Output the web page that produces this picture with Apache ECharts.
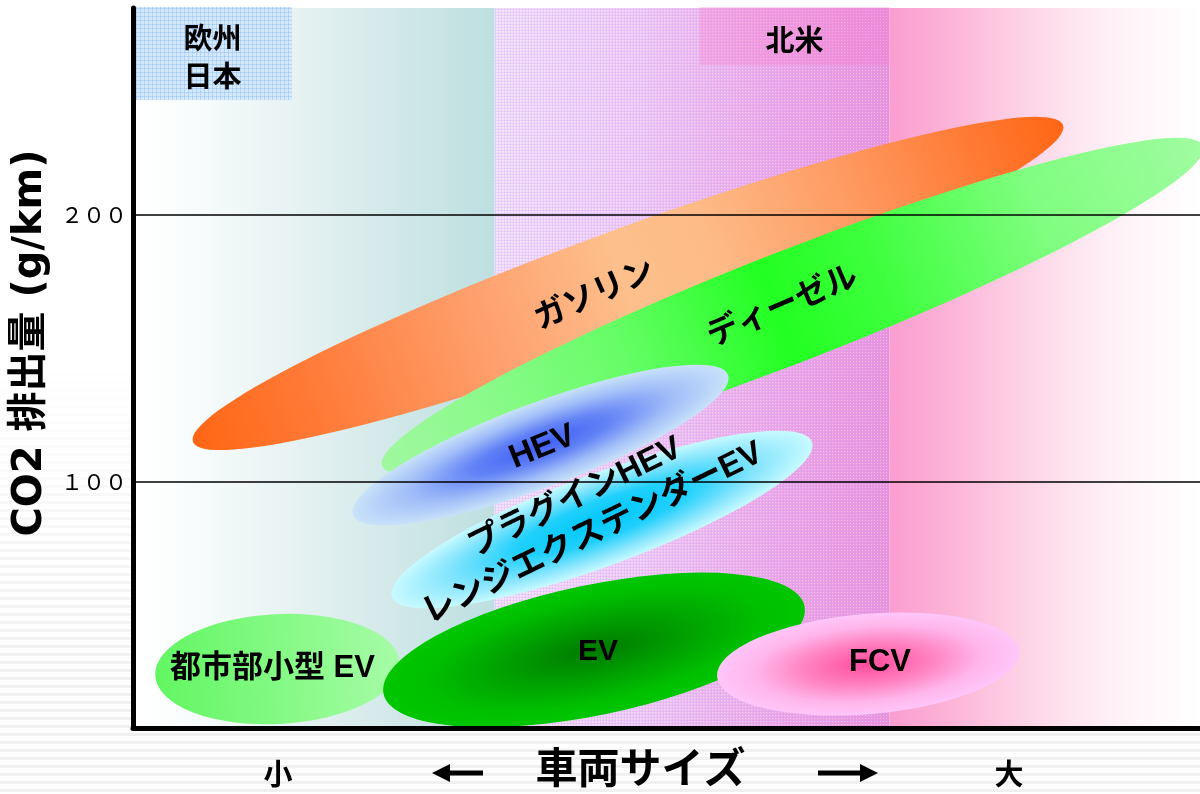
<!DOCTYPE html>
<html>
<head>
<meta charset="utf-8">
<title>車両サイズとCO2排出量</title>
<script src="https://cdn.jsdelivr.net/npm/echarts@6.0.0/dist/echarts.min.js"></script>
<style>
  html, body { margin: 0; padding: 0; }
  body {
    width: 1200px; height: 794px; overflow: hidden;
    background:
      linear-gradient(to bottom, #ffffff 0%, #ffffff 45%, rgba(255,255,255,0) 85%),
      repeating-linear-gradient(to bottom, #ffffff 0px, #ffffff 5px, #f0f0f0 5px, #f0f0f0 8px);
  }
  #chart { width: 1200px; height: 794px; }
</style>
</head>
<body>
<div id="chart"></div>
<script>
// ---- axis ranges and ticks ----
const CO2_MIN = 8.2;
const CO2_MAX = 277;
const co2Ticks = [100, 200];
const sizeTicks = [13.6, 82.1];
const sizeTickLabels = ['小', '大'];

// ---- market regions along the vehicle-size axis ----
const bandFrom = [0, 33.9, 70.9];
const bandTo   = [33.9, 70.9, 100];
const regionNames  = ['欧州\n日本', '北米'];
const regionFrom   = [0, 53.1];
const regionTo     = [14.9, 70.9];
const regionCo2Low = [242.7, 255.7];

// ---- vehicle classes: major axis from (sizeFrom, co2From) to (sizeTo, co2To),
//      half-thickness co2Spread in g/km ----
const vehicleClasses = ['都市部小型 EV', 'ガソリン', 'ディーゼル', 'HEV', 'プラグインHEV\nレンジエクステンダーEV', 'EV', 'FCV'];
const sizeFrom  = [2.08, 5.62, 23.34, 20.62, 24.27, 23.48, 54.74];
const sizeTo    = [25.0, 87.16, 100.3, 55.76, 63.64, 62.93, 83.03];
const co2From   = [27.8, 115.0, 106.0, 87.7, 57.1, 21.0, 27.3];
const co2To     = [32.6, 233.3, 225.5, 140.0, 115.0, 53.7, 36.9];
const co2Spread = [20.5, 20.5, 20.7, 15.7, 17.2, 24.3, 18.7];

// ---- styling ----
const G = echarts.graphic;
const lin = (stops) => new G.LinearGradient(0, 0, 1, 0, stops.map((c) => ({ offset: c[0], color: c[1] })));
const rad = (stops) => new G.RadialGradient(0.5, 0.5, 0.5, stops.map((c) => ({ offset: c[0], color: c[1] })));

// small repeating mesh tiles used as texture overlays
function meshTile(size, lineColor, dotColor) {
  const c = document.createElement('canvas');
  c.width = size; c.height = size;
  const g = c.getContext('2d');
  g.fillStyle = lineColor;
  g.fillRect(0, 0, size, 1);
  g.fillRect(0, 0, 1, size);
  if (dotColor) { g.fillStyle = dotColor; g.fillRect(Math.floor(size / 2), Math.floor(size / 2), 1, 1); }
  return { image: c, repeat: 'repeat' };
}

const classFills = [
  lin([[0, '#62f662'], [1, '#a6fca6']]),
  lin([[0, '#ff6614'], [0.15, '#ff7c3a'], [0.35, '#fea270'], [0.5, '#fdc08c'], [0.6, '#fdba86'], [0.75, '#fe9c64'], [0.9, '#ff7a34'], [1, '#ff6614']]),
  lin([[0, '#a0f8a0'], [0.15, '#88fa88'], [0.3, '#66fd66'], [0.48, '#22ff22'], [0.6, '#3cff3c'], [0.8, '#80fe80'], [1, '#a0fca0']]),
  rad([[0, '#3f5ff6'], [0.35, '#6181f6'], [0.7, '#a2bef8'], [1, '#c8e2f9']]),
  rad([[0, '#00c8fa'], [0.4, '#20d0fc'], [0.75, '#8ae6fd'], [1, '#c8faff']]),
  rad([[0, '#007a00'], [0.45, '#00a200'], [0.8, '#00c000'], [1, '#00c600']]),
  rad([[0, '#ff4c9c'], [0.4, '#ff7fbf'], [0.75, '#ffb6ea'], [1, '#ffc6fa']])
];
// label placement relative to each ellipse centre: [dx px, dy px, rotation deg, font px]
const classLabelStyle = [
  [-5, -1, 0, 31],
  [-33, 12, 24, 32],
  [-10, 1, 23, 32],
  [2, 2, 22, 33],
  [-18, -4, 26, 33],
  [4, 2, 0, 30],
  [12, -2, 0, 31]
];
const LABEL_FONT = "'Liberation Sans', 'Noto Sans CJK JP', sans-serif";

const bandFills = [
  lin([[0, '#ffffff'], [0.1, '#fcfefe'], [0.5, '#e3f0f0'], [1, '#bddfe0']]),
  lin([[0, '#f2e2fa'], [0.35, '#f0cef4'], [0.7, '#eeaae5'], [1, '#ec92d9']]),
  lin([[0, '#fa9dd0'], [0.2, '#fcb4d8'], [0.4, '#fdcfe4'], [0.6, '#fee6f0'], [0.8, '#fff6fa'], [1, '#ffffff']])
];
const bandTextures = [null, meshTile(3, 'rgba(200,150,255,0.22)', 'rgba(255,255,255,0.35)'), null];
const regionFills = ['#d6e9fc', 'rgba(255,120,200,0.28)'];
const regionTextures = [meshTile(4, 'rgba(150,195,248,0.55)', null), null];

const chart = echarts.init(document.getElementById('chart'), null, { renderer: 'canvas' });

const toFullWidth = (s) => String(s).replace(/[0-9]/g, (d) => String.fromCharCode(d.charCodeAt(0) + 0xFEE0));

chart.setOption({
  animation: false,
  grid: { left: 133, right: 0, top: 8, bottom: 66, containLabel: false, outerBoundsMode: 'none' },
  xAxis: {
    type: 'value', min: 0, max: 100, z: 10,
    axisLine: { show: true, onZero: false, lineStyle: { color: '#000', width: 5 } },
    axisTick: { show: false },
    splitLine: { show: false },
    axisLabel: {
      customValues: sizeTicks,
      formatter: (v) => sizeTickLabels[sizeTicks.indexOf(v)] || '',
      color: '#000', fontSize: 29, fontWeight: 'bold', fontFamily: 'Noto Sans CJK JP', margin: 31
    },
    name: '車両サイズ', nameLocation: 'middle', nameGap: 18, nameMoveOverlap: false,
    nameTextStyle: { color: '#000', fontSize: 42, fontWeight: 'bold', fontFamily: 'Noto Sans CJK JP', padding: [0, 52, 0, 0] }
  },
  yAxis: {
    type: 'value', min: CO2_MIN, max: CO2_MAX, z: 10,
    axisLine: { show: true, onZero: false, lineStyle: { color: '#000', width: 5 } },
    axisTick: { show: false, customValues: co2Ticks },
    splitLine: { show: true, lineStyle: { color: '#000', width: 1.5 } },
    axisLabel: {
      customValues: co2Ticks,
      formatter: (v) => toFullWidth(v),
      color: '#000', fontSize: 22, fontFamily: 'Noto Sans CJK JP', margin: 6
    },
    name: 'CO2 排出量 (g/km)', nameLocation: 'middle', nameRotate: 90, nameGap: 82, nameMoveOverlap: false,
    nameTextStyle: { color: '#000', fontSize: 40, fontWeight: 'bold', fontFamily: "'DejaVu Sans', 'Noto Sans CJK JP', sans-serif", padding: [0, 0, 0, 50] }
  },
  graphic: [
    // ← arrow
    { type: 'polygon', shape: { points: [[432, 773], [450, 764], [450, 782]] }, style: { fill: '#000' } },
    { type: 'rect', shape: { x: 448, y: 770.5, width: 35, height: 5 }, style: { fill: '#000' } },
    // → arrow
    { type: 'rect', shape: { x: 818, y: 770.5, width: 44, height: 5 }, style: { fill: '#000' } },
    { type: 'polygon', shape: { points: [[878, 773], [860, 764], [860, 782]] }, style: { fill: '#000' } }
  ],
  series: [
    {
      // market bands behind everything
      type: 'custom', name: 'bands', z: 1, silent: true,
      data: bandFrom.map((f, i) => [f, bandTo[i]]),
      renderItem: (params, api) => {
        const i = params.dataIndex;
        const p0 = api.coord([api.value(0), CO2_MAX]);
        const p1 = api.coord([api.value(1), CO2_MIN]);
        const shape = { x: p0[0], y: p0[1], width: p1[0] - p0[0], height: p1[1] - p0[1] };
        const children = [{ type: 'rect', shape, style: { fill: bandFills[i] } }];
        if (bandTextures[i]) children.push({ type: 'rect', shape, style: { fill: bandTextures[i] } });
        return { type: 'group', children };
      }
    },
    {
      // region name boxes at the top
      type: 'custom', name: 'regions', z: 2, silent: true,
      data: regionFrom.map((f, i) => [f, regionTo[i], regionCo2Low[i]]),
      renderItem: (params, api) => {
        const i = params.dataIndex;
        const p0 = api.coord([api.value(0), CO2_MAX]);
        const p1 = api.coord([api.value(1), api.value(2)]);
        const w = p1[0] - p0[0], h = p1[1] - p0[1];
        const shape = { x: p0[0], y: p0[1] - 1, width: w, height: h + 1 };
        const children = [{ type: 'rect', shape, style: { fill: regionFills[i] } }];
        if (regionTextures[i]) children.push({ type: 'rect', shape, style: { fill: regionTextures[i] } });
        children.push({ type: 'text', x: p0[0] + w / 2, y: p0[1] + h / 2 + 3,
          style: { text: regionNames[i], fill: '#000', align: 'center', verticalAlign: 'middle',
                   font: "bold 29px 'Noto Sans CJK JP'", lineHeight: 38 } });
        return { type: 'group', children };
      }
    },
    {
      // vehicle class ellipses with their names
      type: 'custom', name: 'classes', z: 3, silent: true,
      data: vehicleClasses.map((n, i) => [sizeFrom[i], sizeTo[i], co2From[i], co2To[i], co2Spread[i]]),
      renderItem: (params, api) => {
        const i = params.dataIndex;
        const p1 = api.coord([api.value(0), api.value(2)]);
        const p2 = api.coord([api.value(1), api.value(3)]);
        const cx = (p1[0] + p2[0]) / 2, cy = (p1[1] + p2[1]) / 2;
        const dx = p2[0] - p1[0], dy = p2[1] - p1[1];
        const a = Math.hypot(dx, dy) / 2;
        const b = Math.abs(api.size([0, api.value(4)])[1]);
        const ang = Math.atan2(-dy, dx);
        const ls = classLabelStyle[i];
        return { type: 'group', children: [
          { type: 'circle', shape: { cx: 0, cy: 0, r: 1 }, x: cx, y: cy, rotation: ang, scaleX: a, scaleY: b,
            style: { fill: classFills[i] }, z2: i },
          { type: 'text', x: cx + ls[0], y: cy + ls[1], rotation: ls[2] * Math.PI / 180, z2: 100 + i,
            style: { text: vehicleClasses[i], fill: '#000', align: 'center', verticalAlign: 'middle',
                     font: 'bold ' + ls[3] + 'px ' + LABEL_FONT, lineHeight: ls[3] + 7 } }
        ] };
      }
    }
  ]
});
</script>
</body>
</html>
